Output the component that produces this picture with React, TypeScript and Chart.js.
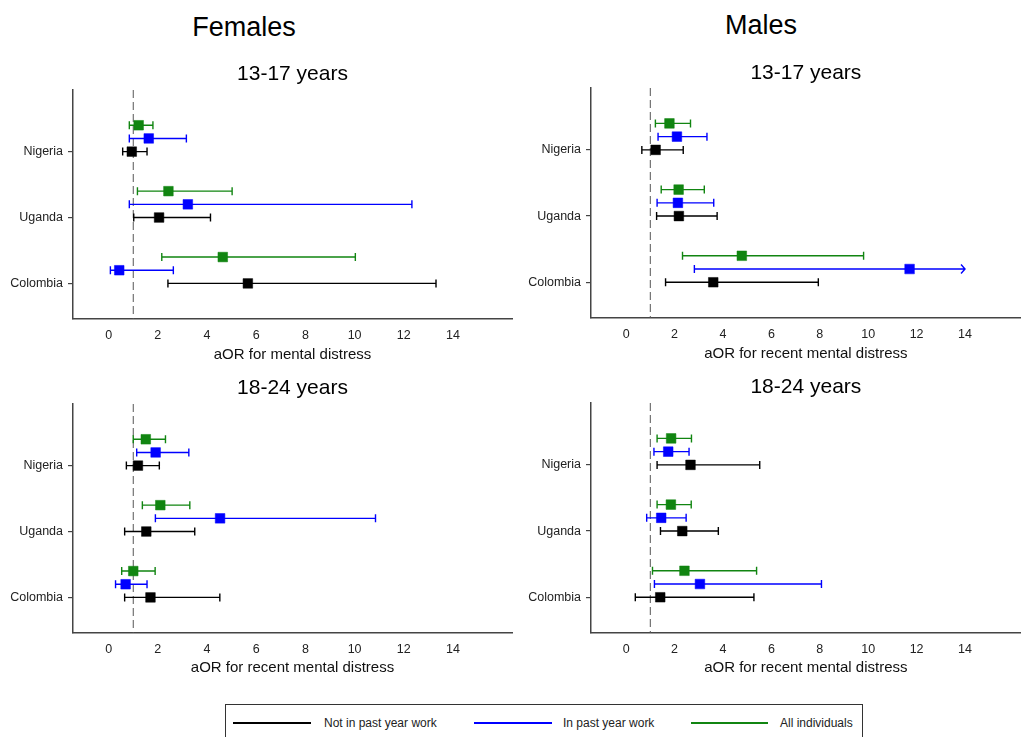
import React, { useEffect, useRef } from 'react';
import { Chart, registerables } from 'chart.js';

Chart.register(...registerables);

// ---------------- data ----------------
const COUNTRIES = ['Nigeria', 'Uganda', 'Colombia'];
const X_TICKS = [0, 2, 4, 6, 8, 10, 12, 14];
const NULL_LINE = 1;
const SERIES_NAMES = ['Not in past year work', 'In past year work', 'All individuals'];
const SEX_TITLES = ['Females', 'Males'];
const AGE_TITLES = ['13-17 years', '18-24 years'];

// Females 13-17 (aOR for mental distress)
const F1317_NOT_EST = [0.94, 2.05, 5.66];
const F1317_NOT_LO = [0.57, 1.02, 2.41];
const F1317_NOT_HI = [1.56, 4.14, 13.31];
const F1317_WORK_EST = [1.63, 3.22, 0.43];
const F1317_WORK_LO = [0.84, 0.84, 0.07];
const F1317_WORK_HI = [3.16, 12.33, 2.63];
const F1317_ALL_EST = [1.22, 2.43, 4.64];
const F1317_ALL_LO = [0.84, 1.17, 2.16];
const F1317_ALL_HI = [1.8, 5.02, 10.03];

// Males 13-17
const M1317_NOT_EST = [1.22, 2.18, 3.6];
const M1317_NOT_LO = [0.65, 1.26, 1.63];
const M1317_NOT_HI = [2.36, 3.76, 7.94];
const M1317_WORK_EST = [2.1, 2.14, 11.71];
const M1317_WORK_LO = [1.32, 1.28, 2.82];
const M1317_WORK_HI = [3.34, 3.62, 14]; // Colombia upper bound runs off the axis (arrow)
const M1317_WORK_TRUNC = [false, false, true];
const M1317_ALL_EST = [1.79, 2.17, 4.78];
const M1317_ALL_LO = [1.21, 1.45, 2.33];
const M1317_ALL_HI = [2.66, 3.23, 9.81];

// Females 18-24
const F1824_NOT_EST = [1.19, 1.53, 1.7];
const F1824_NOT_LO = [0.72, 0.65, 0.65];
const F1824_NOT_HI = [2.06, 3.5, 4.52];
const F1824_WORK_EST = [1.91, 4.53, 0.69];
const F1824_WORK_LO = [1.14, 1.9, 0.28];
const F1824_WORK_HI = [3.26, 10.85, 1.56];
const F1824_ALL_EST = [1.51, 2.1, 1.0];
const F1824_ALL_LO = [1.0, 1.37, 0.53];
const F1824_ALL_HI = [2.31, 3.3, 1.89];

// Males 18-24
const M1824_NOT_EST = [2.66, 2.32, 1.41];
const M1824_NOT_LO = [1.28, 1.42, 0.38];
const M1824_NOT_HI = [5.52, 3.81, 5.28];
const M1824_WORK_EST = [1.74, 1.45, 3.05];
const M1824_WORK_LO = [1.15, 0.85, 1.17];
const M1824_WORK_HI = [2.6, 2.48, 8.07];
const M1824_ALL_EST = [1.86, 1.85, 2.41];
const M1824_ALL_LO = [1.28, 1.28, 1.09];
const M1824_ALL_HI = [2.7, 2.69, 5.39];

const NO_TRUNC = [false, false, false];

// ---------------- styles ----------------
const FONT = "'Liberation Sans', Arial, Helvetica, sans-serif";
const SERIES_COLORS = ['#000000', '#0000ff', '#118511'];
const SERIES_OFFSETS = [0, -0.2, -0.4];

type Series = { est: number[]; lo: number[]; hi: number[]; trunc: boolean[] };
type Panel = {
  title: string;
  axisTitle: string;
  series: Series[];
  layout: {
    left: number; top: number; width: number; height: number;
    plotLeft: number; plotRight: number; plotTop: number; plotBottom: number;
    titleCY: number; axisTitleCY: number; xMax: number;
  };
};

const PANELS: Panel[] = [
  {
    title: AGE_TITLES[0],
    axisTitle: 'aOR for mental distress',
    series: [
      { est: F1317_NOT_EST, lo: F1317_NOT_LO, hi: F1317_NOT_HI, trunc: NO_TRUNC },
      { est: F1317_WORK_EST, lo: F1317_WORK_LO, hi: F1317_WORK_HI, trunc: NO_TRUNC },
      { est: F1317_ALL_EST, lo: F1317_ALL_LO, hi: F1317_ALL_HI, trunc: NO_TRUNC },
    ],
    layout: { left: 0, top: 50, width: 520, height: 320, plotLeft: 73, plotRight: 512, plotTop: 90, plotBottom: 319, titleCY: 74.5, axisTitleCY: 354.5, xMax: 16.4 },
  },
  {
    title: AGE_TITLES[0],
    axisTitle: 'aOR for recent mental distress',
    series: [
      { est: M1317_NOT_EST, lo: M1317_NOT_LO, hi: M1317_NOT_HI, trunc: NO_TRUNC },
      { est: M1317_WORK_EST, lo: M1317_WORK_LO, hi: M1317_WORK_HI, trunc: M1317_WORK_TRUNC },
      { est: M1317_ALL_EST, lo: M1317_ALL_LO, hi: M1317_ALL_HI, trunc: NO_TRUNC },
    ],
    layout: { left: 520, top: 50, width: 508, height: 320, plotLeft: 591, plotRight: 1027, plotTop: 88, plotBottom: 318, titleCY: 73, axisTitleCY: 353.5, xMax: 16.3 },
  },
  {
    title: AGE_TITLES[1],
    axisTitle: 'aOR for recent mental distress',
    series: [
      { est: F1824_NOT_EST, lo: F1824_NOT_LO, hi: F1824_NOT_HI, trunc: NO_TRUNC },
      { est: F1824_WORK_EST, lo: F1824_WORK_LO, hi: F1824_WORK_HI, trunc: NO_TRUNC },
      { est: F1824_ALL_EST, lo: F1824_ALL_LO, hi: F1824_ALL_HI, trunc: NO_TRUNC },
    ],
    layout: { left: 0, top: 365, width: 520, height: 320, plotLeft: 73, plotRight: 512, plotTop: 404, plotBottom: 633, titleCY: 388, axisTitleCY: 668, xMax: 16.4 },
  },
  {
    title: AGE_TITLES[1],
    axisTitle: 'aOR for recent mental distress',
    series: [
      { est: M1824_NOT_EST, lo: M1824_NOT_LO, hi: M1824_NOT_HI, trunc: NO_TRUNC },
      { est: M1824_WORK_EST, lo: M1824_WORK_LO, hi: M1824_WORK_HI, trunc: NO_TRUNC },
      { est: M1824_ALL_EST, lo: M1824_ALL_LO, hi: M1824_ALL_HI, trunc: NO_TRUNC },
    ],
    layout: { left: 520, top: 365, width: 508, height: 320, plotLeft: 591, plotRight: 1027, plotTop: 403, plotBottom: 633, titleCY: 387.5, axisTitleCY: 668, xMax: 16.3 },
  },
];

// draws the null reference line and the confidence-interval whiskers
const errorBarPlugin = {
  id: 'errorBars',
  beforeDatasetsDraw(chart: any) {
    const { ctx, chartArea, scales } = chart;
    const x = scales.x;
    ctx.save();
    const rx = x.getPixelForValue(NULL_LINE);
    ctx.strokeStyle = '#555555';
    ctx.lineWidth = 1;
    ctx.setLineDash([8, 4]);
    ctx.beginPath();
    ctx.moveTo(rx, chartArea.top);
    ctx.lineTo(rx, chartArea.bottom);
    ctx.stroke();
    ctx.setLineDash([]);

    chart.data.datasets.forEach((ds: any, di: number) => {
      const meta = chart.getDatasetMeta(di);
      ds.lo.forEach((lo: number, i: number) => {
        const el = meta.data[i];
        if (!el) return;
        const py = el.y;
        const x1 = x.getPixelForValue(lo);
        const x2 = x.getPixelForValue(ds.hi[i]);
        ctx.strokeStyle = ds.borderColor;
        ctx.lineWidth = 1.4;
        ctx.beginPath();
        ctx.moveTo(x1, py);
        ctx.lineTo(x2, py);
        ctx.moveTo(x1, py - 4);
        ctx.lineTo(x1, py + 4);
        if (ds.trunc[i]) {
          ctx.moveTo(x2 - 4, py - 4.5);
          ctx.lineTo(x2, py);
          ctx.lineTo(x2 - 4, py + 4.5);
        } else {
          ctx.moveTo(x2, py - 4);
          ctx.lineTo(x2, py + 4);
        }
        ctx.stroke();
      });
    });
    ctx.restore();
  },
};

function PanelChart({ panel }: { panel: Panel }) {
  const ref = useRef<HTMLCanvasElement | null>(null);
  const L = panel.layout;

  useEffect(() => {
    if (!ref.current) return;
    const titleSize = 21;
    const titleLH = titleSize * 1.2;
    const titleTop = L.titleCY - L.top - titleLH / 2;
    const titleBottom = L.plotTop - L.top - titleLH - titleTop;
    const axisTitleSize = 15;
    const bottomEdge = L.top + L.height;
    const axisTitlePadBottom = bottomEdge - L.axisTitleCY - (axisTitleSize * 1.2) / 2;

    const datasets = panel.series.map((s, si) => ({
      label: SERIES_NAMES[si],
      data: COUNTRIES.map((_, i) => ({ x: s.est[i], y: i + SERIES_OFFSETS[si] })),
      lo: s.lo,
      hi: s.hi,
      trunc: s.trunc,
      borderColor: SERIES_COLORS[si],
      backgroundColor: SERIES_COLORS[si],
      pointStyle: 'rect',
      pointRadius: 6.8,
      pointBorderWidth: 0.5,
      showLine: false,
    }));

    const chart = new Chart(ref.current, {
      type: 'scatter',
      data: { datasets } as any,
      plugins: [errorBarPlugin],
      options: {
        animation: false,
        responsive: false,
        events: [],
        layout: { padding: { left: 0, right: L.left + L.width - L.plotRight, top: 0, bottom: 0 } },
        plugins: {
          legend: { display: false },
          tooltip: { enabled: false },
          title: {
            display: true,
            text: panel.title,
            fullSize: false,
            color: '#000',
            font: { family: FONT, size: titleSize, weight: 'normal', lineHeight: 1.2 },
            padding: { top: titleTop, bottom: titleBottom },
          },
        },
        scales: {
          x: {
            type: 'linear',
            min: -1.45,
            max: L.xMax,
            afterBuildTicks: (scale: any) => {
              scale.ticks = X_TICKS.map((v) => ({ value: v }));
            },
            afterFit: (scale: any) => {
              scale.height = bottomEdge - L.plotBottom;
            },
            grid: { display: true, drawOnChartArea: false, drawTicks: false },
            border: { display: true, color: '#444', width: 1.5 },
            ticks: {
              color: '#222',
              padding: 9,
              maxRotation: 0,
              autoSkip: false,
              font: { family: FONT, size: 12.5, lineHeight: 1.2 },
              callback: (v: any) => String(v),
            },
            title: {
              display: true,
              text: panel.axisTitle,
              color: '#111',
              font: { family: FONT, size: axisTitleSize, lineHeight: 1.2 },
              padding: { top: 0, bottom: axisTitlePadBottom },
            },
          },
          y: {
            type: 'linear',
            reverse: true,
            min: -0.935,
            max: 2.54,
            afterBuildTicks: (scale: any) => {
              scale.ticks = COUNTRIES.map((_, i) => ({ value: i }));
            },
            afterFit: (scale: any) => {
              scale.width = L.plotLeft - L.left;
            },
            grid: { display: true, drawOnChartArea: false, drawTicks: true, tickLength: 5, color: '#444', lineWidth: 1.2 },
            border: { display: true, color: '#444', width: 1.5 },
            ticks: {
              color: '#222',
              padding: 5,
              autoSkip: false,
              font: { family: FONT, size: 12.5, lineHeight: 1.2 },
              callback: (v: any) => COUNTRIES[Math.round(Number(v))] ?? '',
            },
          },
        },
      } as any,
    });
    return () => chart.destroy();
  }, [panel]);

  return (
    <canvas
      ref={ref}
      width={L.width}
      height={L.height}
      style={{ position: 'absolute', left: L.left, top: L.top, width: L.width, height: L.height }}
    />
  );
}

export default function App() {
  const legendLines = [
    { x1: 233, x2: 311, tx: 324 },
    { x1: 474, x2: 552, tx: 563 },
    { x1: 691, x2: 768, tx: 780 },
  ];
  return (
    <div
      style={{
        position: 'absolute',
        left: 0,
        top: 0,
        width: 1028,
        height: 737,
        overflow: 'hidden',
        background: '#fff',
        fontFamily: FONT,
      }}
    >
      <div style={{ position: 'absolute', left: 144, width: 200, top: 11, textAlign: 'center', fontSize: 27, lineHeight: '32px', color: '#000' }}>
        {SEX_TITLES[0]}
      </div>
      <div style={{ position: 'absolute', left: 661, width: 200, top: 9, textAlign: 'center', fontSize: 27, lineHeight: '32px', color: '#000' }}>
        {SEX_TITLES[1]}
      </div>
      {PANELS.map((p, i) => (
        <PanelChart key={i} panel={p} />
      ))}
      <div
        style={{
          position: 'absolute',
          left: 225,
          top: 704,
          width: 638,
          height: 60,
          border: '1px solid #333',
          boxSizing: 'border-box',
        }}
      />
      {legendLines.map((l, i) => (
        <React.Fragment key={i}>
          <div style={{ position: 'absolute', left: l.x1, top: 722, width: l.x2 - l.x1, height: 2, background: SERIES_COLORS[i] }} />
          <div style={{ position: 'absolute', left: l.tx, top: 716, fontSize: 12, lineHeight: '14px', color: '#222', whiteSpace: 'nowrap' }}>
            {SERIES_NAMES[i]}
          </div>
        </React.Fragment>
      ))}
    </div>
  );
}
